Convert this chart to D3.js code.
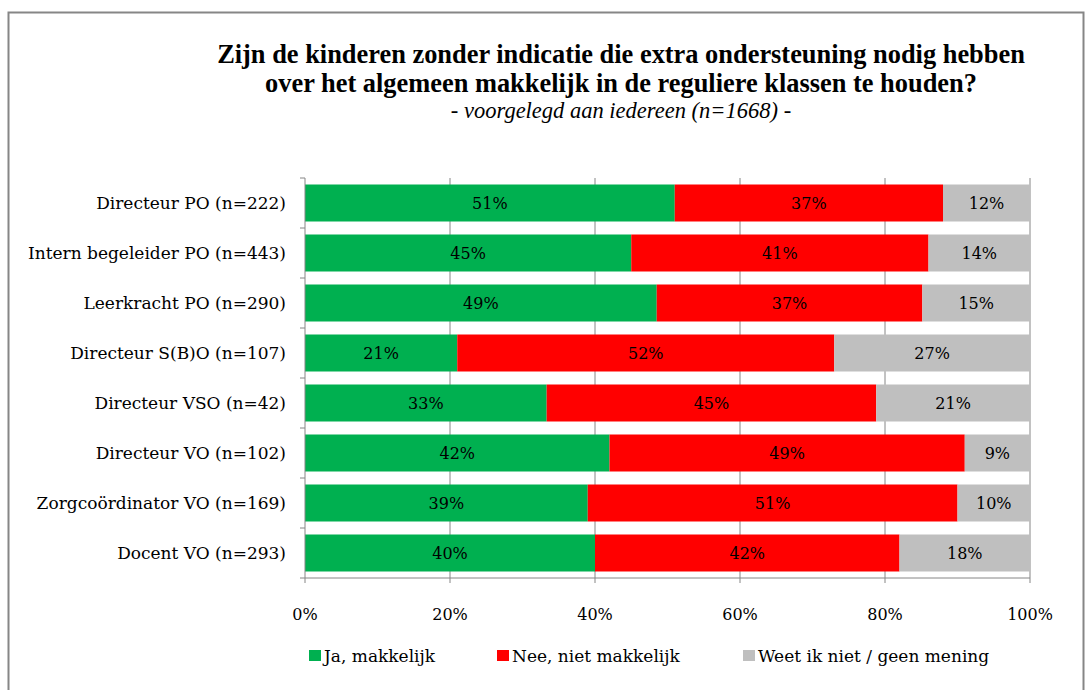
<!DOCTYPE html>
<html>
<head>
<meta charset="utf-8">
<script src="https://cdn.jsdelivr.net/npm/d3@7"></script>
<style>
  body { margin: 0; background: #fff; }
  svg text { font-family: "DejaVu Serif", serif; fill: #000; }
  svg text.title { font-family: "Liberation Serif", serif; }
</style>
</head>
<body>
<script>
let categories = ["Directeur PO (n=222)", "Intern begeleider PO (n=443)", "Leerkracht PO (n=290)",
  "Directeur S(B)O (n=107)", "Directeur VSO (n=42)", "Directeur VO (n=102)",
  "Zorgcoördinator VO (n=169)", "Docent VO (n=293)"]
let seriesNames = ["Ja, makkelijk", "Nee, niet makkelijk", "Weet ik niet / geen mening"]
let ja = [51, 45, 49, 21, 33, 42, 39, 40]
let nee = [37, 41, 37, 52, 45, 49, 51, 42]
let weet = [12, 14, 15, 27, 21, 9, 10, 18]
let ticks = [0, 0.2, 0.4, 0.6, 0.8, 1]
let colors = ["#00B050", "#FF0000", "#BFBFBF"]

let w = 1087
let h = 690
let plotLeft = 305
let plotRight = 1030
let plotTop = 178
let plotBottom = 578

let svg = d3.select("body").append("svg")
  .attr("width", w)
  .attr("height", h)

// outer chart border
svg.append("rect")
  .attr("x", 8.5).attr("y", 12.5)
  .attr("width", 1075).attr("height", 700)
  .attr("fill", "none").attr("stroke", "#868686").attr("stroke-width", 2)

// title
let title = svg.append("text")
  .attr("class", "title")
  .attr("text-anchor", "middle")
  .attr("font-size", 26.4)
  .attr("font-weight", "bold")
title.append("tspan").attr("x", 621).attr("y", 63)
  .text("Zijn de kinderen zonder indicatie die extra ondersteuning nodig hebben")
title.append("tspan").attr("x", 621).attr("y", 92)
  .text("over het algemeen makkelijk in de reguliere klassen te houden?")
svg.append("text")
  .attr("class", "title")
  .attr("x", 621).attr("y", 118)
  .attr("text-anchor", "middle")
  .attr("font-size", 22.5)
  .attr("font-style", "italic")
  .text("- voorgelegd aan iedereen (n=1668) -")

let rows = categories.map((c, i) => ({cat: c, ja: ja[i], nee: nee[i], weet: weet[i]}))
let keys = ["ja", "nee", "weet"]

let stack = d3.stack().keys(keys).offset(d3.stackOffsetExpand)
let layers = stack(rows)

let x = d3.scaleLinear().domain([0, 1]).range([plotLeft, plotRight])
let y = d3.scaleBand().domain(categories).range([plotTop, plotBottom]).paddingInner(0.26).paddingOuter(0.13)

// gridlines
svg.append("g")
  .selectAll("line")
  .data(ticks.slice(1))
  .enter()
  .append("line")
  .attr("x1", d => x(d)).attr("x2", d => x(d))
  .attr("y1", plotTop).attr("y2", plotBottom)
  .attr("stroke", "#868686")

let groups = svg.selectAll(".layer")
  .data(layers)
  .enter()
  .append("g")
  .attr("class", "layer")
  .attr("fill", (d, i) => colors[i])

groups.selectAll("rect")
  .data(d => d)
  .enter()
  .append("rect")
  .attr("x", d => x(d[0]))
  .attr("y", d => y(d.data.cat))
  .attr("width", d => x(d[1]) - x(d[0]))
  .attr("height", y.bandwidth())

groups.selectAll("text")
  .data((d, i) => d.map(v => ({v: v, key: keys[i]})))
  .enter()
  .append("text")
  .attr("x", d => (x(d.v[0]) + x(d.v[1])) / 2)
  .attr("y", d => y(d.v.data.cat) + y.bandwidth() / 2)
  .attr("dy", "0.35em")
  .attr("text-anchor", "middle")
  .attr("font-size", 16)
  .text(d => d.v.data[d.key] + "%")

// y axis
let yAxis = svg.append("g")
yAxis.append("line")
  .attr("x1", plotLeft).attr("x2", plotLeft)
  .attr("y1", plotTop).attr("y2", plotBottom)
  .attr("stroke", "#868686")
yAxis.selectAll(".tk")
  .data(d3.range(categories.length + 1))
  .enter()
  .append("line")
  .attr("x1", plotLeft - 5).attr("x2", plotLeft)
  .attr("y1", i => plotTop + i * (plotBottom - plotTop) / categories.length)
  .attr("y2", i => plotTop + i * (plotBottom - plotTop) / categories.length)
  .attr("stroke", "#868686")
yAxis.selectAll("text")
  .data(categories)
  .enter()
  .append("text")
  .attr("x", 286)
  .attr("y", d => y(d) + y.bandwidth() / 2)
  .attr("dy", "0.35em")
  .attr("text-anchor", "end")
  .attr("font-size", 17)
  .text(d => d)

// x axis
let xAxis = svg.append("g")
xAxis.append("line")
  .attr("x1", plotLeft).attr("x2", plotRight)
  .attr("y1", plotBottom).attr("y2", plotBottom)
  .attr("stroke", "#868686")
xAxis.selectAll(".tk")
  .data(ticks)
  .enter()
  .append("line")
  .attr("x1", d => x(d)).attr("x2", d => x(d))
  .attr("y1", plotBottom).attr("y2", plotBottom + 5)
  .attr("stroke", "#868686")
xAxis.selectAll("text")
  .data(ticks)
  .enter()
  .append("text")
  .attr("x", d => x(d))
  .attr("y", 620)
  .attr("text-anchor", "middle")
  .attr("font-size", 16)
  .text(d => Math.round(d * 100) + "%")

// legend
let legendX = [309, 497, 743]
let legend = svg.append("g")
legend.selectAll("rect")
  .data(seriesNames)
  .enter()
  .append("rect")
  .attr("x", (d, i) => legendX[i])
  .attr("y", 650)
  .attr("width", 12).attr("height", 11)
  .attr("fill", (d, i) => colors[i])
legend.selectAll("text")
  .data(seriesNames)
  .enter()
  .append("text")
  .attr("x", (d, i) => legendX[i] + 15)
  .attr("y", 662)
  .attr("font-size", 17)
  .text(d => d)
</script>
</body>
</html>
